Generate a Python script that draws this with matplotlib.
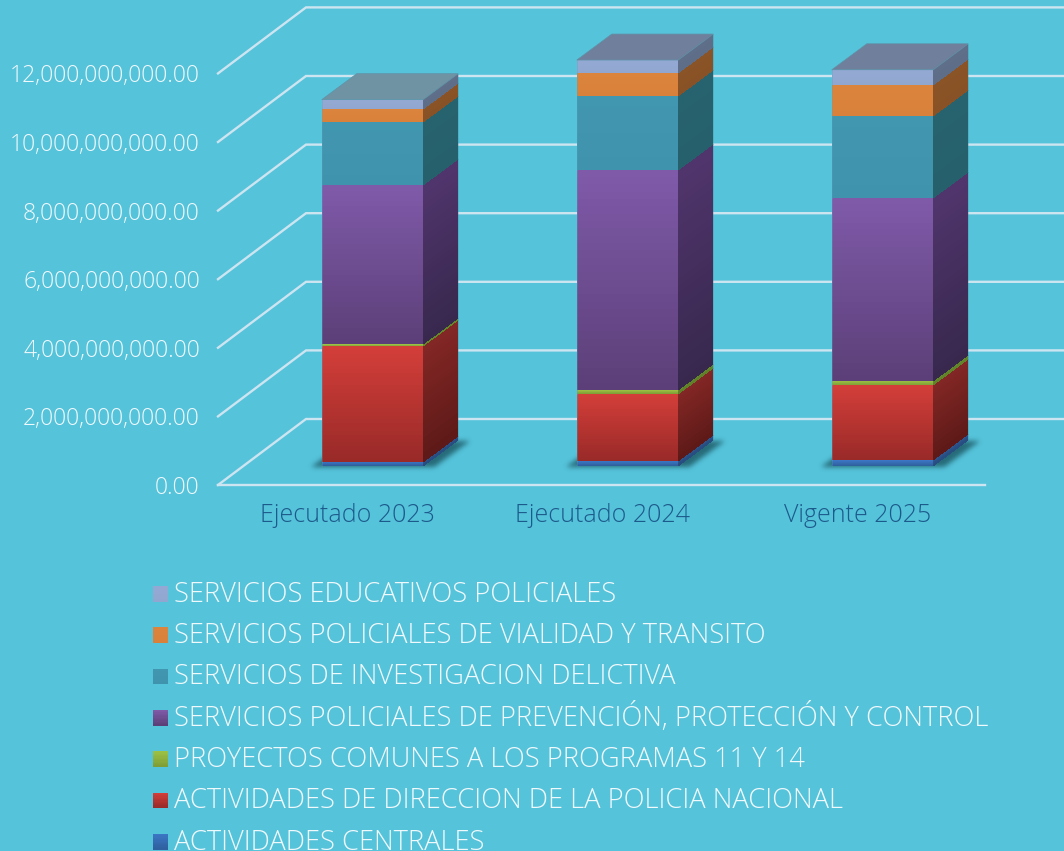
import matplotlib
matplotlib.use("Agg")
import numpy as np
import matplotlib.pyplot as plt
from matplotlib.colors import to_rgb
from matplotlib.patches import Rectangle
from matplotlib.ticker import FuncFormatter
from matplotlib.transforms import Affine2D

# ---- data -------------------------------------------------------------
categories = ["Ejecutado 2023", "Ejecutado 2024", "Vigente 2025"]
series_names = [
    "ACTIVIDADES CENTRALES",
    "ACTIVIDADES DE DIRECCION DE LA POLICIA NACIONAL",
    "PROYECTOS COMUNES A LOS PROGRAMAS 11 Y 14",
    "SERVICIOS POLICIALES DE PREVENCIÓN, PROTECCIÓN Y CONTROL",
    "SERVICIOS DE INVESTIGACION DELICTIVA",
    "SERVICIOS POLICIALES DE VIALIDAD Y TRANSITO",
    "SERVICIOS EDUCATIVOS POLICIALES",
]
centrales = [0.117e9, 0.137e9, 0.157e9]
direccion = [3.36e9, 1.96e9, 2.186e9]
proyectos = [0.06e9, 0.108e9, 0.134e9]
prevencion = [4.64e9, 6.43e9, 5.317e9]
investigacion = [1.845e9, 2.145e9, 2.40e9]
vialidad = [0.38e9, 0.68e9, 0.912e9]
educativos = [0.27e9, 0.367e9, 0.437e9]
series_values = [centrales, direccion, proyectos, prevencion, investigacion, vialidad, educativos]
y_ticks = [0, 2e9, 4e9, 6e9, 8e9, 10e9, 12e9]

# ---- style ------------------------------------------------------------
BG = "#55c3da"
GRID = "#cde5f1"
front_cols = [("#3b76c4", "#2f609f"), ("#d33e39", "#992a28"), ("#9cc145", "#7f9e36"),
              ("#7f5aa9", "#5c3f78"), ("#4196b0", "#4093ac"), ("#db843d", "#d9813b"),
              ("#93a9d3", "#92a7d0")]
side_cols = [("#2f5a96", "#274d80"), ("#832725", "#5e1a18"), ("#6a8f2c", "#5f8028"),
             ("#50356c", "#38284e"), ("#27626f", "#26606d"), ("#8b5427", "#885226"),
             ("#5f6f89", "#5e6e88")]
cap_cols = ["#6f93a3", "#6f7f9c", "#6f7f9c"]
plt.rcParams["font.family"] = ["Open Sans", "DejaVu Sans"]
WEIGHT = "light"

W, H = 1064, 851
fig = plt.figure(figsize=(W / 100, H / 100), dpi=100, facecolor=BG)
L, R, Y0, Y12 = 220, 985, 485, 73.4
ax = fig.add_axes([L / W, 1 - Y0 / H, (R - L) / W, (Y0 - Y12) / H])
ax.set_xlim(-0.5, 2.5)
ax.set_ylim(0, 12e9)
ax.patch.set_visible(False)
for s in ax.spines.values():
    s.set_visible(False)

px = 3.0 / (R - L)                     # data x per pixel
py = 12e9 / (Y0 - Y12)                 # data y per pixel
screen = Affine2D().scale(1, -1).translate(0, H)   # pixels from the top-left corner

# ---- back wall / floor grid -------------------------------------------
wall_dx, wall_dy = 88 * px, 66 * py
x_l = -0.5 - 2 * px
for v in y_ticks:
    ax.plot([x_l, x_l + wall_dx, 2.5 + wall_dx], [v, v + wall_dy, v + wall_dy],
            color=GRID, lw=1.7, clip_on=False, zorder=1, solid_joinstyle="miter")
ax.plot([x_l, 2.5], [0, 0], color=GRID, lw=1.7, clip_on=False, zorder=1)

# ---- bars -------------------------------------------------------------
bar_w = 101.5 * px
off_x, off_y = 25 * px, 19.3 * py      # bar front plane relative to axis plane
dep_x, dep_y = 35 * px, 26 * py        # bar depth
N = 30


def ramp(top, bot, n=N):
    t, b = np.array(to_rgb(top)), np.array(to_rgb(bot))
    return np.array([t + (b - t) * i / (n - 1) for i in range(n)])


def blurred(mask, sigma):
    r = int(3 * sigma)
    g = np.exp(-0.5 * (np.arange(-r, r + 1) / sigma) ** 2)
    g /= g.sum()
    out = np.apply_along_axis(lambda a: np.convolve(a, g, mode="same"), 0, mask)
    return np.apply_along_axis(lambda a: np.convolve(a, g, mode="same"), 1, out)


for i, cat in enumerate(categories):
    x0 = i - bar_w / 2 + off_x
    x1 = x0 + bar_w
    # soft floor shadow: blurred parallelogram on the floor
    ext, low = 11, 1.5
    sx0, sx1 = x0 - ext * px, x1 + ext * px
    sb = off_y - low * py
    pad = 12
    gx = np.linspace(sx0 - pad * px, sx1 + dep_x + pad * px,
                     int((sx1 + dep_x - sx0) / px) + 2 * pad)
    gy = np.linspace(sb - pad * py, sb + dep_y + pad * py, int(dep_y / py) + 2 * pad)
    XX, YY = np.meshgrid(gx, gy)
    t = (YY - sb) / dep_y
    mask = ((t >= 0) & (t <= 1) & (XX >= sx0 + t * dep_x) & (XX <= sx1 + t * dep_x)).astype(float)
    alpha = blurred(mask, 2.5) * 0.8
    img = np.zeros(alpha.shape + (4,))
    img[..., :3] = to_rgb("#1b5560")
    img[..., 3] = alpha
    ax.imshow(img, origin="lower", extent=(gx[0], gx[-1], gy[0], gy[-1]), aspect="auto",
              zorder=2, clip_on=False, interpolation="bilinear")

    base = off_y
    z = 3
    for k, vals in enumerate(series_values):
        top = base + vals[i]
        ys = np.linspace(top, base, N + 1)
        X = np.column_stack([np.full(N + 1, x0), np.full(N + 1, x1)])
        Y = np.column_stack([ys, ys])
        C = ramp(*front_cols[k])[:, None, :]
        ax.pcolormesh(X, Y, C, zorder=z, clip_on=False, antialiased=False)
        X2 = np.column_stack([np.full(N + 1, x1), np.full(N + 1, x1 + dep_x)])
        Y2 = np.column_stack([ys, ys + dep_y])
        C2 = ramp(*side_cols[k])[:, None, :]
        ax.pcolormesh(X2, Y2, C2, zorder=z, clip_on=False, antialiased=False)
        ax.plot([x0, x0], [base, top], color="#5a9fc0", lw=0.6,
                alpha=0.35, clip_on=False, zorder=z + 0.5)
        ax.plot([x1 + dep_x, x1 + dep_x], [top + dep_y, base + dep_y], color="#4a7f98",
                lw=0.6, alpha=0.35, clip_on=False, zorder=z + 0.5)
        base = top
    ax.fill([x0, x1, x1 + dep_x, x0 + dep_x], [base, base, base + dep_y, base + dep_y],
            facecolor=cap_cols[i], edgecolor="#5f93a8", lw=0.5, clip_on=False, zorder=z + 1)

ax.set_xlim(-0.5, 2.5)
ax.set_ylim(0, 12e9)

# ---- axes text --------------------------------------------------------
ax.set_yticks(y_ticks)
ax.yaxis.set_major_formatter(FuncFormatter(lambda v, p: f"{v:,.2f}"))
ax.tick_params(axis="y", length=0, pad=14.5, labelsize=16.6, labelcolor="#f0f9fc")
ax.set_xticks(range(len(categories)))
ax.set_xticklabels(categories)
ax.tick_params(axis="x", length=0, pad=13.2, labelsize=18, labelcolor="#1d5a8c")
for t in ax.get_yticklabels() + ax.get_xticklabels():
    t.set_fontweight(WEIGHT)

# ---- legend (top row first) -------------------------------------------
for row, k in enumerate(reversed(range(len(series_names)))):
    baseline = 601.7 + 41.3 * row
    cols = ramp(*front_cols[k], n=12)
    for j in range(12):
        ax.add_patch(Rectangle((152.7, baseline - 15.7 + 15.5 * j / 12), 15.3, 15.5 / 12 + 0.3,
                               facecolor=cols[j], edgecolor="none", transform=screen,
                               clip_on=False, zorder=6))
    ax.text(174, baseline, series_names[k], transform=screen, ha="left", va="baseline",
            fontsize=19.6, fontweight=WEIGHT, color="#f0f9fc", clip_on=False)

fig.savefig("out.png", dpi=100, facecolor=BG)
